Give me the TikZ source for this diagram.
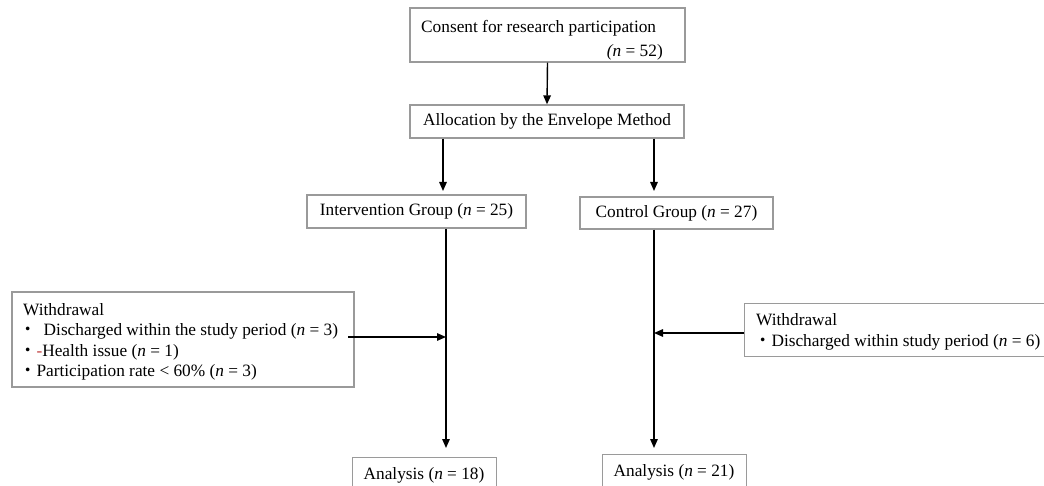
\documentclass[tikz,border=0pt]{standalone}
\usepackage{fontspec}
\setmainfont{Liberation Serif}
\newfontfamily\cjk{Noto Sans CJK JP}
\usetikzlibrary{arrows.meta}
\definecolor{boxgray}{HTML}{9A9A9A}
\definecolor{dashred}{HTML}{C04040}
\newcommand{\blt}{{\cjk ・}}
\tikzset{
  box/.style={draw=boxgray, line width=1.3pt, inner sep=0pt, font=\fontsize{17.3}{20.5}\selectfont},
  txt/.style={inner sep=0pt, font=\fontsize{17.3}{20.5}\selectfont},
  conn/.style={line width=1.4pt, -{Triangle[length=9pt,width=7.5pt]}}
}
\begin{document}
\begin{tikzpicture}[x=1pt,y=-1pt]
\useasboundingbox (0,0) rectangle (1044,486);
\clip (0,0) rectangle (1044,486);
% top box
\node[box, minimum width=275pt, minimum height=54pt] (consent) at (547.5,35) {};
\node[txt, anchor=base west] (consentA) at (421,33) {Consent for research participation};
\node[txt, anchor=base east] (consentB) at (663,57) {\textit{(n} = 52)};
% allocation
\node[box, minimum width=274pt, minimum height=33pt] (alloc) at (547,121.5) {Allocation by the Envelope Method};
% groups
\node[box, minimum width=219pt, minimum height=33pt] (interv) at (416.5,211.5) {Intervention Group (\textit{n} = 25)};
\node[box, minimum width=193pt, minimum height=32pt] (control) at (676.5,213) {Control Group (\textit{n} = 27)};
% withdrawal left
\node[box, minimum width=342pt, minimum height=95pt] (wl) at (183,339.5) {};
\node[txt, anchor=north west, align=left] (wltext) at (23,303)
 {Withdrawal\\[0pt]\hspace*{-4pt}\blt\ \,Discharged within the study period (\textit{n} = 3)\\
  \hspace*{-4pt}\blt{\color{dashred}-}Health issue (\textit{n} = 1)\\
  \hspace*{-4pt}\blt Participation rate < 60\% (\textit{n} = 3)};
% withdrawal right
\node[box, anchor=north west, minimum width=320pt, minimum height=53pt] (wr) at (744,303) {};
\node[txt, anchor=north west, align=left, font=\fontsize{17.3}{21.7}\selectfont] (wrtext) at (756,313)
 {Withdrawal\\\hspace*{-2pt}\blt Discharged within study period (\textit{n} = 6)};
% analysis
\node[box, anchor=north west, minimum width=144pt, minimum height=44pt] (anl) at (352,457) {};
\node[txt, anchor=base] (anltext) at (424,479) {Analysis (\textit{n} = 18)};
\node[box, anchor=north west, minimum width=144pt, minimum height=44pt] (anr) at (602,454) {};
\node[txt, anchor=base] (anrtext) at (674,476) {Analysis (\textit{n} = 21)};
% coordinates
\coordinate (ijoin) at (446,337);
\coordinate (cjoin) at (654,333);
% connectors
\draw[conn] (consent.south) -- (alloc.north);
\draw[conn] (alloc.south -| 443,0) -- (443,191);
\draw[conn] (alloc.south -| 654,0) -- (654,191);
\draw[conn] (interv.south -| ijoin) -- (446,448);
\draw[conn] (control.south -| cjoin) -- (654,448);
\draw[conn] (348,337) -- (ijoin);
\draw[conn] (wr.west |- cjoin) -- (cjoin);
\end{tikzpicture}
\end{document}
